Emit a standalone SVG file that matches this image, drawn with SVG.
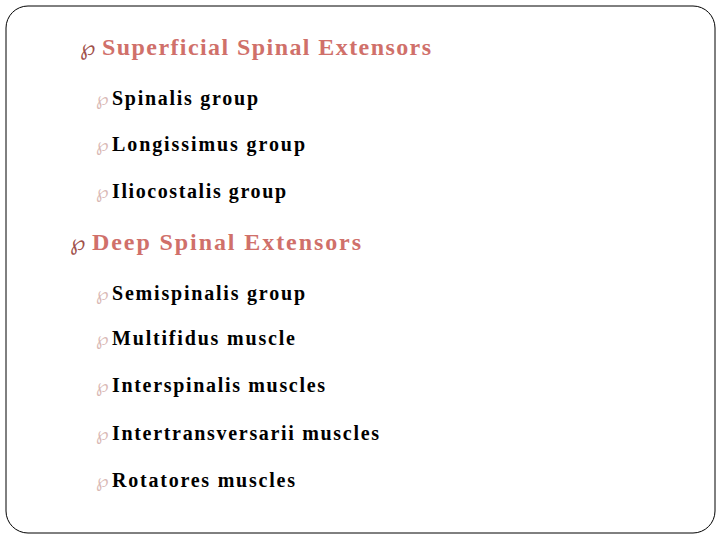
<svg xmlns="http://www.w3.org/2000/svg" width="720" height="540" viewBox="0 0 720 540">
<style>
.h{font-family:"Liberation Serif",serif;font-size:24px;font-weight:bold;fill:#d0706a}
.s{font-family:"Liberation Serif",serif;font-size:20px;font-weight:bold;fill:#000}
.b1{font-family:"DejaVu Sans",sans-serif;font-size:22px;fill:#a0504a}
.b2{font-family:"DejaVu Sans",sans-serif;font-size:18px;fill:#d9b8b4}
</style>
<rect x="0" y="0" width="720" height="540" fill="#fff"/>
<rect x="6" y="6" width="709" height="527" rx="22" fill="#fff" stroke="#000" stroke-width="1"/>
<g id="n1"><text class="b1" x="80" y="55">℘</text><text class="h" x="102" y="55" textLength="329">Superficial Spinal Extensors</text></g>
<g id="n2"><text class="b2" x="96" y="105">℘</text><text class="s" x="112" y="105" textLength="146">Spinalis group</text></g>
<g id="n3"><text class="b2" x="96" y="151">℘</text><text class="s" x="112" y="151" textLength="193">Longissimus group</text></g>
<g id="n4"><text class="b2" x="96" y="198">℘</text><text class="s" x="112" y="198" textLength="174">Iliocostalis group</text></g>
<g id="n5"><text class="b1" x="70" y="250">℘</text><text class="h" x="92" y="250" textLength="269">Deep Spinal Extensors</text></g>
<g id="n6"><text class="b2" x="96" y="300">℘</text><text class="s" x="112" y="300" textLength="193">Semispinalis group</text></g>
<g id="n7"><text class="b2" x="96" y="345">℘</text><text class="s" x="112" y="345" textLength="183">Multifidus muscle</text></g>
<g id="n8"><text class="b2" x="96" y="392">℘</text><text class="s" x="112" y="392" textLength="213">Interspinalis muscles</text></g>
<g id="n9"><text class="b2" x="96" y="440">℘</text><text class="s" x="112" y="440" textLength="267">Intertransversarii muscles</text></g>
<g id="n10"><text class="b2" x="96" y="487">℘</text><text class="s" x="112" y="487" textLength="183">Rotatores muscles</text></g>
<g id="connectors"/>
</svg>
